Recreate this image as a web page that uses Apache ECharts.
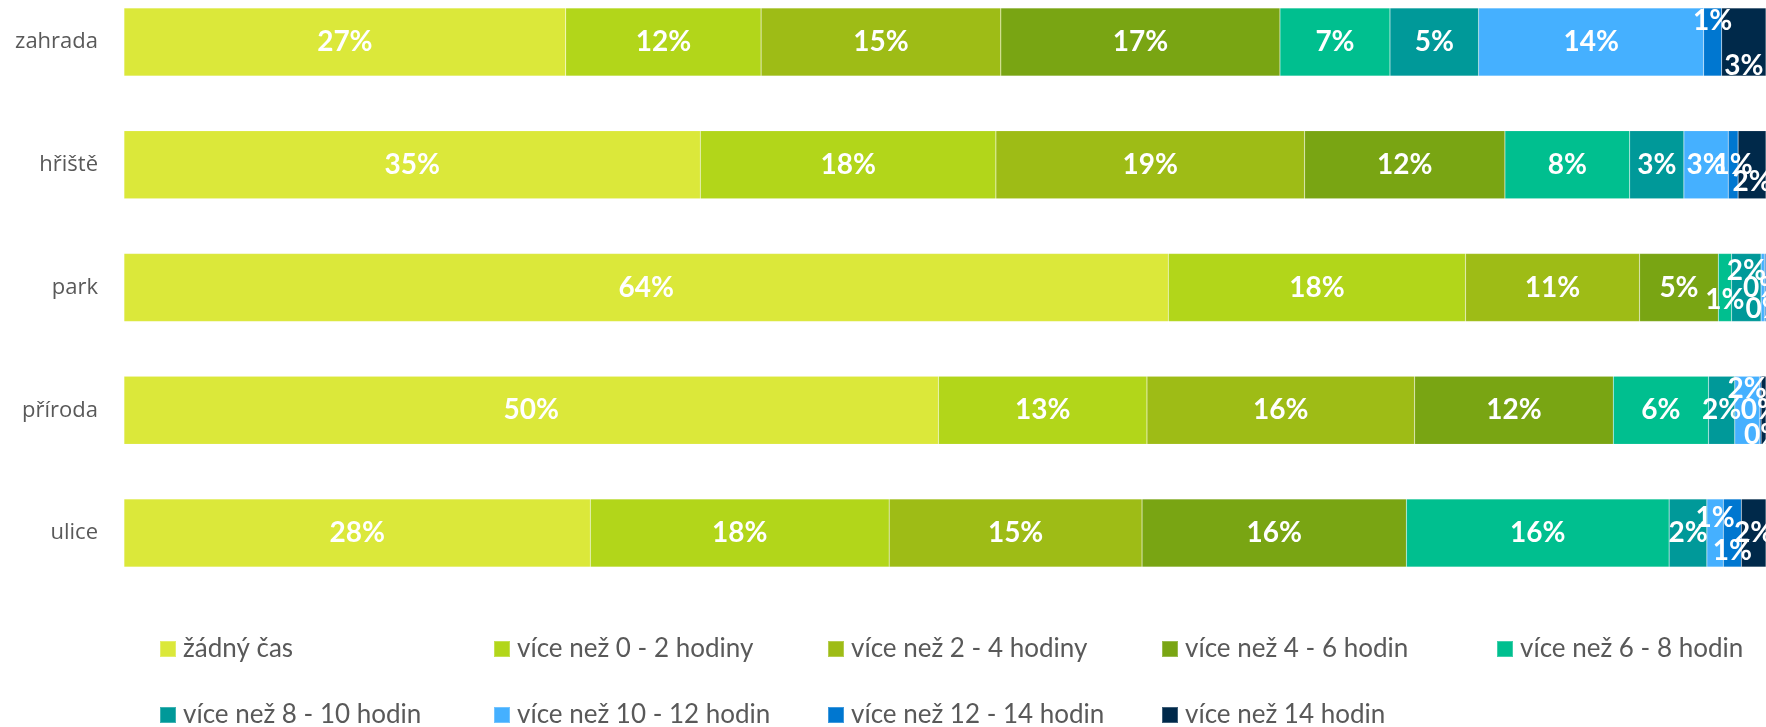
<!DOCTYPE html>
<html lang="cs">
<head>
<meta charset="utf-8">
<title>Čas strávený venku</title>
<script src="https://cdn.jsdelivr.net/npm/echarts@6/dist/echarts.min.js"></script>
<style>
  html, body { margin: 0; padding: 0; background: #fff; }
  #chart { width: 1766px; height: 727px; }
</style>
</head>
<body>
<div id="chart"></div>
<script>
// místa (kategorie), shora dolů
const places = ['zahrada', 'hřiště', 'park', 'příroda', 'ulice']

const seriesNames = [
  'žádný čas',
  'více než 0 - 2 hodiny',
  'více než 2 - 4 hodiny',
  'více než 4 - 6 hodin',
  'více než 6 - 8 hodin',
  'více než 8 - 10 hodin',
  'více než 10 - 12 hodin',
  'více než 12 - 14 hodin',
  'více než 14 hodin'
]

// podíly v %, pořadí jako places
const noTime = [26.9, 35.1, 63.6, 49.6, 28.4]
const upTo2h = [11.9, 18.0, 18.1, 12.7, 18.2]
const upTo4h = [14.6, 18.8, 10.6, 16.3, 15.4]
const upTo6h = [17.0, 12.2, 4.8, 12.1, 16.1]
const upTo8h = [6.7, 7.6, 0.8, 5.8, 16.0]
const upTo10h = [5.4, 3.3, 1.8, 1.6, 2.3]
const upTo12h = [13.7, 2.7, 0.2, 1.5, 1.0]
const upTo14h = [1.1, 0.6, 0.1, 0.1, 1.1]
const over14h = [2.7, 1.7, 0.0, 0.3, 1.5]

const seriesValues = [noTime, upTo2h, upTo4h, upTo6h, upTo8h, upTo10h, upTo12h, upTo14h, over14h]

const palette = ['#DBE83A', '#B2D61A', '#9EBC16', '#79A513', '#00BF8F', '#009999', '#45B0FF', '#0077D0', '#00294A']

// posun popisků u úzkých segmentů (jako v Excelu), "series,place" -> [dx, dy]
const labelNudges = {
  '7,0': [0, -21], '8,0': [0, 24],
  '8,1': [0, 17],
  '4,2': [0, 12], '5,2': [0, -17], '7,2': [0, 21],
  '6,3': [0, -21], '8,3': [0, 25],
  '6,4': [0, -15], '7,4': [0, 18]
}

const legendLeft = [159, 493, 827, 1161, 1496]
const legendTop = [636, 702]

const chart = echarts.init(document.getElementById('chart'))

const option = {
  animation: false,
  grid: { left: 124, right: 0, top: 42, bottom: 194 },
  xAxis: {
    type: 'value',
    min: 0,
    max: 100,
    show: false
  },
  yAxis: {
    type: 'category',
    inverse: true,
    boundaryGap: false,
    data: places,
    axisLine: { show: false },
    axisTick: { show: false },
    splitLine: { show: false },
    axisLabel: {
      margin: 26,
      color: '#595959',
      fontFamily: 'Open Sans',
      fontSize: 22
    }
  },
  legend: seriesNames.map((name, i) => ({
    data: [name],
    left: legendLeft[i % 5],
    top: legendTop[Math.floor(i / 5)],
    padding: 0,
    icon: 'rect',
    itemWidth: 16,
    itemHeight: 16,
    itemGap: 0,
    selectedMode: false,
    textStyle: {
      color: '#595959',
      fontFamily: 'Lato',
      fontSize: 26,
      padding: [0, 0, 0, 2]
    }
  })),
  series: seriesValues.map((values, si) => ({
    name: seriesNames[si],
    type: 'bar',
    stack: 'total',
    barWidth: 68,
    clip: false,
    itemStyle: {
      color: palette[si],
      borderColor: 'rgba(255,255,255,0.25)',
      borderWidth: 0.5
    },
    label: {
      show: true,
      position: 'inside',
      color: '#fff',
      fontFamily: 'Lato',
      fontWeight: 'bold',
      fontSize: 28,
      formatter: (p) => (p.value > 0 ? Math.round(p.value) + '%' : '')
    },
    labelLayout: (params) => {
      const nudge = labelNudges[si + ',' + params.dataIndex]
      return nudge ? { dx: nudge[0], dy: nudge[1] } : {}
    },
    data: values
  }))
}

chart.setOption(option)
</script>
</body>
</html>
